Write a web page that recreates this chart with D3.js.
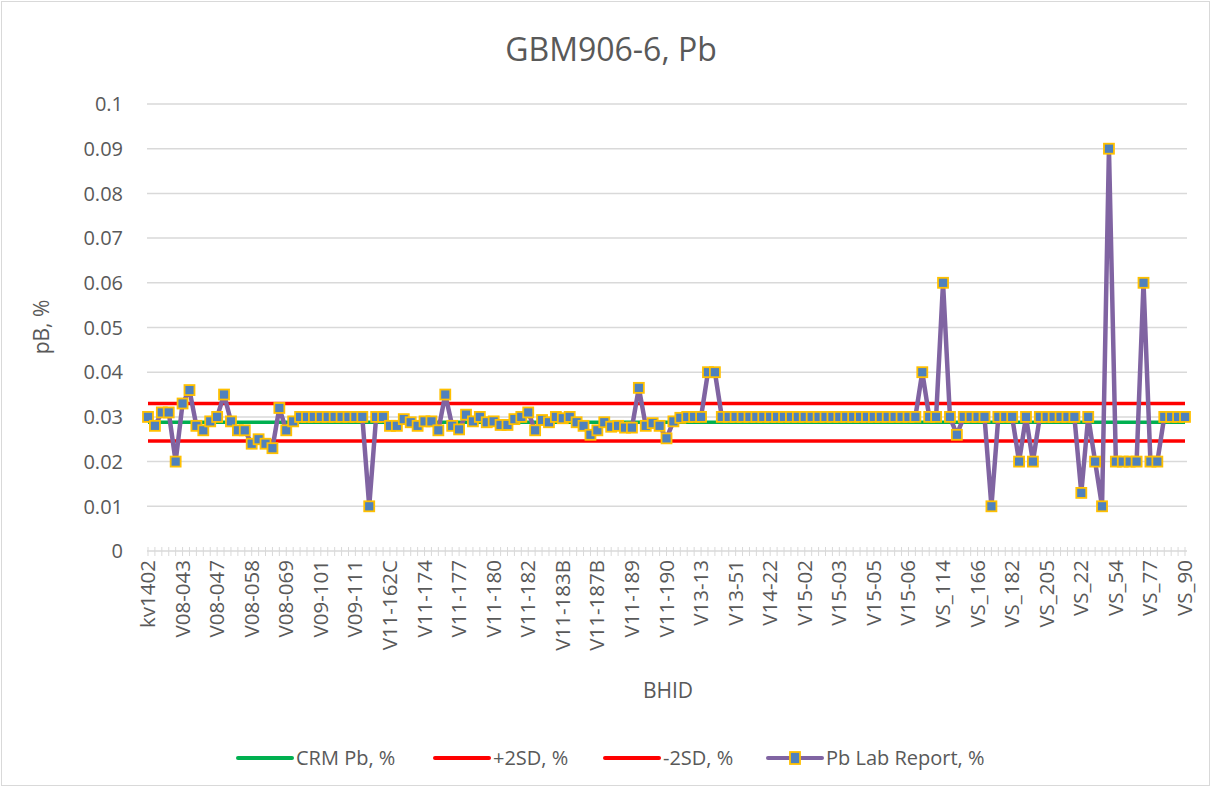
<!DOCTYPE html>
<html>
<head>
<meta charset="utf-8">
<script src="https://cdn.jsdelivr.net/npm/d3@7"></script>
<style>
  body { margin: 0; background: #fff; }
  text { font-family: "Open Sans", "Liberation Sans", sans-serif; fill: #595959; }
</style>
</head>
<body>
<div id="svg"></div>
<script>
// chart data
var tickLabels = ["kv1402", "V08-043", "V08-047", "V08-058", "V08-069", "V09-101", "V09-111",
    "V11-162C", "V11-174", "V11-177", "V11-180", "V11-182", "V11-183B", "V11-187B", "V11-189",
    "V11-190", "V13-13", "V13-51", "V14-22", "V15-02", "V15-03", "V15-05", "V15-06", "VS_114",
    "VS_166", "VS_182", "VS_205", "VS_22", "VS_54", "VS_77", "VS_90"];
var labelEvery = 5;

var labReport = [
    0.030, 0.028, 0.031, 0.031, 0.020, 0.033, 0.036, 0.028, 0.027, 0.029,
    0.030, 0.035, 0.029, 0.027, 0.027, 0.024, 0.025, 0.024, 0.023, 0.032,
    0.027, 0.029, 0.030, 0.030, 0.030, 0.030, 0.030, 0.030, 0.030, 0.030,
    0.030, 0.030, 0.010, 0.030, 0.030, 0.028, 0.028, 0.0295, 0.0288, 0.028,
    0.029, 0.029, 0.027, 0.035, 0.028, 0.0272, 0.0305, 0.029, 0.030, 0.0288,
    0.029, 0.0282, 0.0282, 0.0295, 0.030, 0.031, 0.027, 0.0293, 0.0288, 0.030,
    0.0297, 0.030, 0.0288, 0.028, 0.026, 0.027, 0.0288, 0.0278, 0.028, 0.0276,
    0.0276, 0.0365, 0.028, 0.0286, 0.028, 0.0252, 0.029, 0.0298, 0.030, 0.030,
    0.030, 0.040, 0.040, 0.030, 0.030, 0.030, 0.030, 0.030, 0.030, 0.030,
    0.030, 0.030, 0.030, 0.030, 0.030, 0.030, 0.030, 0.030, 0.030, 0.030,
    0.030, 0.030, 0.030, 0.030, 0.030, 0.030, 0.030, 0.030, 0.030, 0.030,
    0.030, 0.030, 0.040, 0.030, 0.030, 0.060, 0.030, 0.026, 0.030, 0.030,
    0.030, 0.030, 0.010, 0.030, 0.030, 0.030, 0.020, 0.030, 0.020, 0.030,
    0.030, 0.030, 0.030, 0.030, 0.030, 0.013, 0.030, 0.020, 0.010, 0.090,
    0.020, 0.020, 0.020, 0.020, 0.060, 0.020, 0.020, 0.030, 0.030, 0.030,
    0.030
];
var crmValue = 0.0288;
var plus2SD = 0.0330;
var minus2SD = 0.0246;
var yTicks = [0, 0.01, 0.02, 0.03, 0.04, 0.05, 0.06, 0.07, 0.08, 0.09, 0.1];

var width = 1214, height = 789;

var svg = d3.select("#svg").append("svg")
    .attr("width", width)
    .attr("height", height);

// outer chart border
svg.append("rect")
    .attr("x", 1.5).attr("y", 1.5)
    .attr("width", 1208).attr("height", 784)
    .attr("fill", "#fff")
    .attr("stroke", "#d9d9d9");

// scales
var x = d3.scaleLinear()
    .domain([0, labReport.length - 1])
    .range([148, 1185]);

var y = d3.scaleLinear()
    .domain([0, 0.1])
    .range([551, 104]);

// gridlines
svg.append("g").selectAll("line")
    .data(yTicks.slice(1))
    .enter().append("line")
    .attr("x1", x(0) - 1)
    .attr("x2", x(labReport.length - 1) + 2)
    .attr("y1", function(d) { return y(d); })
    .attr("y2", function(d) { return y(d); })
    .attr("stroke", "#d9d9d9")
    .attr("stroke-width", 1.5);

// y axis labels
svg.append("g").selectAll("text")
    .data(yTicks)
    .enter().append("text")
    .attr("x", 123)
    .attr("y", function(d) { return y(d); })
    .attr("dy", "0.36em")
    .attr("text-anchor", "end")
    .style("font-size", "20px")
    .text(function(d) { return d3.format("")(+d.toFixed(2)); });

// x axis line with a tick per sample
var xAxis = svg.append("g");
xAxis.append("line")
    .attr("x1", x(0) - 1)
    .attr("x2", x(labReport.length - 1) + 2)
    .attr("y1", y(0)).attr("y2", y(0))
    .attr("stroke", "#d9d9d9")
    .attr("stroke-width", 1.5);
xAxis.selectAll(".tick")
    .data(d3.range(labReport.length))
    .enter().append("line")
    .attr("class", "tick")
    .attr("x1", function(d) { return x(d); })
    .attr("x2", function(d) { return x(d); })
    .attr("y1", y(0) - 4)
    .attr("y2", y(0) + 5)
    .attr("stroke", "#d9d9d9")
    .attr("stroke-width", 1);

// x tick labels, every 5th sample
xAxis.selectAll(".lbl")
    .data(tickLabels)
    .enter().append("text")
    .attr("class", "lbl")
    .attr("transform", function(d, i) {
        return "translate(" + (x(i * labelEvery) + 7) + "," + (y(0) + 9) + ") rotate(-90)";
    })
    .attr("text-anchor", "end")
    .style("font-size", "20.5px")
    .text(function(d) { return d; });

// reference lines
var refLines = [
    { v: crmValue, color: "#00b050" },
    { v: plus2SD, color: "#ff0000" },
    { v: minus2SD, color: "#ff0000" }
];
svg.append("g").selectAll("line")
    .data(refLines)
    .enter().append("line")
    .attr("x1", x(0))
    .attr("x2", x(labReport.length - 1))
    .attr("y1", function(d) { return y(d.v); })
    .attr("y2", function(d) { return y(d.v); })
    .attr("stroke", function(d) { return d.color; })
    .attr("stroke-width", 3.5);

// lab report series
var line = d3.line()
    .x(function(d, i) { return x(i); })
    .y(function(d) { return y(d); });

svg.append("path")
    .datum(labReport)
    .attr("d", line)
    .attr("fill", "none")
    .attr("stroke", "#8064a2")
    .attr("stroke-width", 4.5)
    .attr("stroke-linejoin", "round");

svg.append("g").selectAll("rect")
    .data(labReport)
    .enter().append("rect")
    .attr("x", function(d, i) { return x(i) - 5; })
    .attr("y", function(d) { return y(d) - 5; })
    .attr("width", 10)
    .attr("height", 10)
    .attr("fill", "#4f81bd")
    .attr("stroke", "#ffc000")
    .attr("stroke-width", 1.8);

// titles
svg.append("text")
    .attr("x", 611).attr("y", 61)
    .attr("text-anchor", "middle")
    .style("font-size", "32px")
    .text("GBM906-6, Pb");

svg.append("text")
    .attr("transform", "translate(49,327) rotate(-90)")
    .attr("text-anchor", "middle")
    .style("font-size", "21px")
    .text("pB, %");

svg.append("text")
    .attr("x", 668).attr("y", 698)
    .attr("text-anchor", "middle")
    .style("font-size", "21px")
    .text("BHID");

// legend
var legend = [
    { name: "CRM Pb, %", color: "#00b050", x: 238, marker: false },
    { name: "+2SD, %", color: "#ff0000", x: 435, marker: false },
    { name: "-2SD, %", color: "#ff0000", x: 605, marker: false },
    { name: "Pb Lab Report, %", color: "#8064a2", x: 768, marker: true }
];
var lg = svg.append("g").selectAll("g")
    .data(legend)
    .enter().append("g")
    .attr("transform", function(d) { return "translate(" + d.x + ",758)"; });
lg.append("line")
    .attr("x1", 0).attr("x2", 54)
    .attr("stroke", function(d) { return d.color; })
    .attr("stroke-width", 4)
    .attr("stroke-linecap", "round");
lg.filter(function(d) { return d.marker; })
    .append("rect")
    .attr("x", 22).attr("y", -6)
    .attr("width", 10).attr("height", 12)
    .attr("fill", "#4f81bd")
    .attr("stroke", "#ffc000")
    .attr("stroke-width", 1.8);
lg.append("text")
    .attr("x", 58)
    .attr("dy", "0.36em")
    .style("font-size", "20px")
    .text(function(d) { return d.name; });
</script>
</body>
</html>
